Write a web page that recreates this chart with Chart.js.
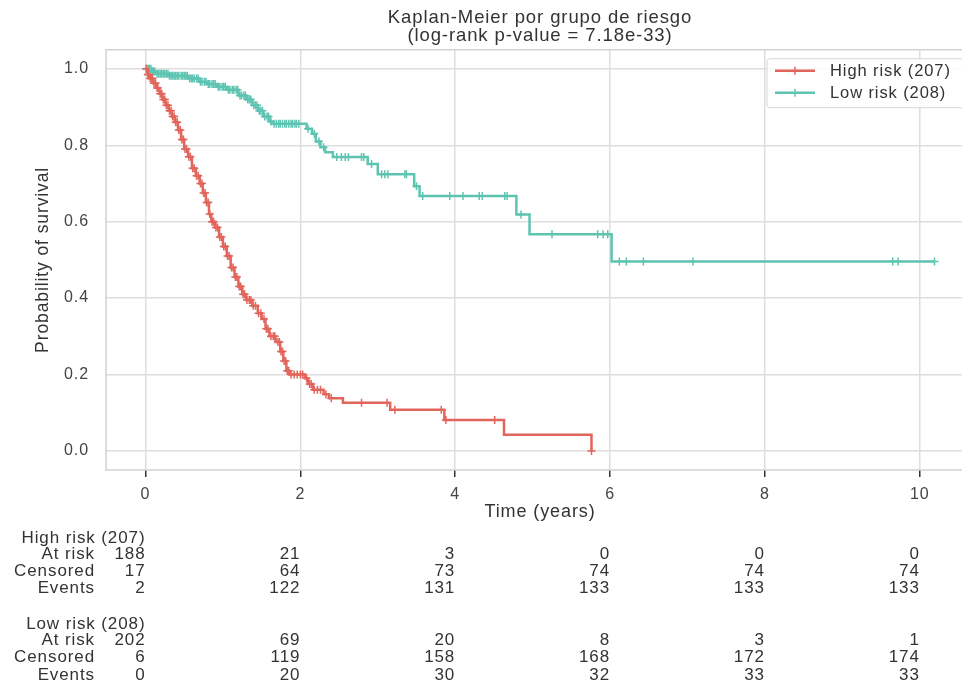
<!DOCTYPE html>
<html>
<head>
<meta charset="utf-8">
<title>Kaplan-Meier por grupo de riesgo</title>
<script src="https://cdn.jsdelivr.net/npm/chart.js@4.4.1/dist/chart.umd.min.js"></script>
<style>
  html, body { margin: 0; padding: 0; background: #fff; overflow: hidden; }
  /* the original figure is cut off a little on the right */
  #wrap { width: 962px; height: 685px; overflow: hidden; }
</style>
</head>
<body>
<div id="wrap"><canvas id="km-chart" width="980" height="685"></canvas></div>
<script>
// Kaplan-Meier step values (time in years, survival)
const highTimes = [0, 0.03, 0.06, 0.1, 0.14, 0.18, 0.22, 0.26, 0.3, 0.34, 0.38, 0.42, 0.46, 0.5, 0.55, 0.6, 0.65, 0.7, 0.74, 0.78, 0.82, 0.85, 0.9, 0.95, 1.0, 1.05, 1.1, 1.15, 1.2, 1.25, 1.3, 1.38, 1.45, 1.5, 1.55, 1.6, 1.68, 1.74, 1.78, 1.82, 1.86, 2.06, 2.1, 2.16, 2.3, 2.37, 2.55, 3.16, 3.86, 4.63, 5.76];
const highSurv = [1.0, 0.985, 0.975, 0.962, 0.95, 0.935, 0.92, 0.905, 0.89, 0.875, 0.86, 0.84, 0.815, 0.79, 0.77, 0.74, 0.72, 0.70, 0.675, 0.65, 0.62, 0.6, 0.585, 0.56, 0.535, 0.51, 0.48, 0.455, 0.43, 0.41, 0.395, 0.38, 0.36, 0.345, 0.32, 0.3, 0.285, 0.26, 0.235, 0.21, 0.2, 0.19, 0.175, 0.16, 0.148, 0.138, 0.126, 0.108, 0.081, 0.042, 0.0];
const highCensorTimes = [0.01, 0.03, 0.04, 0.06, 0.08, 0.09, 0.11, 0.13, 0.15, 0.16, 0.19, 0.21, 0.23, 0.25, 0.27, 0.29, 0.31, 0.33, 0.35, 0.37, 0.39, 0.41, 0.43, 0.45, 0.47, 0.49, 0.51, 0.53, 0.56, 0.58, 0.61, 0.63, 0.66, 0.68, 0.71, 0.73, 0.75, 0.77, 0.79, 0.81, 0.83, 0.86, 0.88, 0.91, 0.93, 0.96, 0.98, 1.01, 1.03, 1.06, 1.08, 1.11, 1.13, 1.16, 1.18, 1.21, 1.23, 1.26, 1.28, 1.31, 1.34, 1.36, 1.39, 1.42, 1.46, 1.49, 1.53, 1.56, 1.58, 1.62, 1.65, 1.67, 1.71, 1.73, 1.75, 1.77, 1.79, 1.81, 1.83, 1.85, 1.88, 1.92, 1.96, 2.0, 2.03, 2.08, 2.12, 2.14, 2.18, 2.22, 2.26, 2.33, 2.4, 2.79, 3.12, 3.22, 3.82, 3.88, 4.51, 5.76];

const lowTimes = [0, 0.08, 0.14, 0.3, 0.55, 0.7, 0.8, 0.92, 1.05, 1.2, 1.3, 1.38, 1.45, 1.52, 1.6, 1.64, 2.08, 2.15, 2.2, 2.26, 2.32, 2.42, 2.87, 3.0, 3.47, 3.54, 4.79, 4.96, 6.02];
const lowSurv = [1.0, 0.993, 0.987, 0.982, 0.975, 0.966, 0.96, 0.953, 0.945, 0.93, 0.92, 0.905, 0.89, 0.875, 0.862, 0.856, 0.843, 0.83, 0.81, 0.795, 0.782, 0.769, 0.751, 0.724, 0.693, 0.667, 0.619, 0.567, 0.496];
const lowCensorTimes = [0.01, 0.02, 0.04, 0.05, 0.07, 0.09, 0.1, 0.12, 0.15, 0.17, 0.19, 0.21, 0.23, 0.25, 0.27, 0.29, 0.31, 0.33, 0.35, 0.37, 0.39, 0.41, 0.43, 0.46, 0.48, 0.5, 0.52, 0.54, 0.57, 0.59, 0.61, 0.63, 0.66, 0.68, 0.71, 0.73, 0.76, 0.78, 0.81, 0.83, 0.86, 0.88, 0.9, 0.94, 0.96, 0.99, 1.01, 1.03, 1.07, 1.09, 1.12, 1.14, 1.17, 1.19, 1.22, 1.24, 1.27, 1.29, 1.32, 1.34, 1.36, 1.4, 1.42, 1.44, 1.47, 1.49, 1.51, 1.54, 1.57, 1.59, 1.62, 1.66, 1.69, 1.72, 1.74, 1.77, 1.8, 1.82, 1.85, 1.88, 1.9, 1.93, 1.95, 1.98, 2.1, 2.18, 2.24, 2.3, 2.47, 2.53, 2.58, 2.62, 2.79, 2.82, 2.92, 3.05, 3.09, 3.13, 3.35, 3.37, 3.5, 3.58, 3.93, 4.1, 4.31, 4.35, 4.64, 4.67, 4.85, 5.25, 5.84, 5.91, 5.97, 6.12, 6.21, 6.43, 7.07, 9.65, 9.72, 10.19];

// axis ticks
const timeTicks = [0, 2, 4, 6, 8, 10];
const survTicks = [0, 0.2, 0.4, 0.6, 0.8, 1.0];

// number-at-risk table (one value per time tick)
const highAtRisk = [188, 21, 3, 0, 0, 0];
const highCensored = [17, 64, 73, 74, 74, 74];
const highEvents = [2, 122, 131, 133, 133, 133];
const lowAtRisk = [202, 69, 20, 8, 3, 1];
const lowCensored = [6, 119, 158, 168, 172, 174];
const lowEvents = [0, 20, 30, 32, 33, 33];

const highLabel = "High risk (207)";
const lowLabel = "Low risk (208)";
const RED = "#e2655c";
const TEAL = "#5ec4b2";
const FONT = "'Liberation Sans', Arial, Helvetica, sans-serif";

function survivalAt(times, surv, t) {
  let s = surv[0];
  for (let i = 0; i < times.length; i++) {
    if (times[i] <= t) s = surv[i];
  }
  return s;
}

function stepPoints(times, surv, censors) {
  const pts = times.map((t, i) => ({ x: t, y: surv[i] }));
  const end = Math.max(...censors, times[times.length - 1]);
  pts.push({ x: end, y: surv[surv.length - 1] });
  return pts;
}

function censorPoints(times, surv, censors) {
  return censors.map(t => ({ x: t, y: survivalAt(times, surv, t) }));
}

// slightly wider text, like the original render
const spacingPlugin = {
  id: "spacing",
  beforeDraw(chart) { chart.ctx.letterSpacing = "0.9px"; }
};

// frame around the plot area
const framePlugin = {
  id: "frame",
  beforeDatasetsDraw(chart) {
    const a = chart.chartArea;
    const ctx = chart.ctx;
    ctx.save();
    ctx.strokeStyle = "#d2d2d2";
    ctx.lineWidth = 1.5;
    ctx.strokeRect(a.left, a.top, a.right - a.left, a.bottom - a.top);
    ctx.restore();
  }
};

// legend box in the upper right corner
const legendPlugin = {
  id: "kmLegend",
  afterDatasetsDraw(chart) {
    const a = chart.chartArea;
    const ctx = chart.ctx;
    const items = [[highLabel, RED], [lowLabel, TEAL]];
    const w = 202, h = 49;
    const x0 = a.right - w - 5, y0 = a.top + 9;
    ctx.save();
    ctx.fillStyle = "rgba(255,255,255,0.85)";
    ctx.strokeStyle = "#d6d6d6";
    ctx.lineWidth = 1;
    ctx.beginPath();
    ctx.roundRect(x0, y0, w, h, 3);
    ctx.fill();
    ctx.stroke();
    ctx.font = "16.5px " + FONT;
    ctx.textBaseline = "middle";
    items.forEach((it, i) => {
      const y = y0 + 12 + i * 22;
      ctx.strokeStyle = it[1];
      ctx.lineWidth = 2.5;
      ctx.beginPath();
      ctx.moveTo(x0 + 8, y);
      ctx.lineTo(x0 + 48, y);
      ctx.stroke();
      ctx.lineWidth = 1.5;
      ctx.beginPath();
      ctx.moveTo(x0 + 28, y - 4);
      ctx.lineTo(x0 + 28, y + 4);
      ctx.stroke();
      ctx.fillStyle = "#333";
      ctx.fillText(it[0], x0 + 63, y + 1);
    });
    ctx.restore();
  }
};

// number-at-risk table under the x axis
const tablePlugin = {
  id: "riskTable",
  afterDraw(chart) {
    const xs = chart.scales.x;
    const ctx = chart.ctx;
    const top = chart.chartArea.bottom + 68;
    const labelX = 95;
    const groups = [
      [highLabel, highAtRisk, highCensored, highEvents],
      [lowLabel, lowAtRisk, lowCensored, lowEvents]
    ];
    const rowNames = ["At risk", "Censored", "Events"];
    ctx.save();
    ctx.font = "17px " + FONT;
    ctx.fillStyle = "#333";
    ctx.textBaseline = "middle";
    ctx.textAlign = "right";
    groups.forEach((g, gi) => {
      const gy = top + gi * 86.5;
      ctx.fillText(g[0], xs.getPixelForValue(timeTicks[0]), gy);
      for (let r = 0; r < 3; r++) {
        const y = gy + 16 + r * 17.3;
        ctx.fillText(rowNames[r], labelX, y);
        timeTicks.forEach((t, c) => {
          ctx.fillText(String(g[r + 1][c]), xs.getPixelForValue(t), y);
        });
      }
    });
    ctx.restore();
  }
};

const ctx = document.getElementById("km-chart").getContext("2d");
const kmChart = new Chart(ctx, {
  type: "line",
  data: {
    datasets: [
      {
        label: highLabel,
        data: stepPoints(highTimes, highSurv, highCensorTimes),
        borderColor: RED,
        borderWidth: 2.5,
        stepped: "before",
        pointRadius: 0,
        fill: false
      },
      {
        label: lowLabel,
        data: stepPoints(lowTimes, lowSurv, lowCensorTimes),
        borderColor: TEAL,
        borderWidth: 2.5,
        stepped: "before",
        pointRadius: 0,
        fill: false
      },
      {
        label: "high censored",
        data: censorPoints(highTimes, highSurv, highCensorTimes),
        showLine: false,
        pointStyle: "cross",
        pointRadius: 4,
        borderColor: RED,
        borderWidth: 1.5
      },
      {
        label: "low censored",
        data: censorPoints(lowTimes, lowSurv, lowCensorTimes),
        showLine: false,
        pointStyle: "cross",
        pointRadius: 4,
        borderColor: TEAL,
        borderWidth: 1.5
      }
    ]
  },
  options: {
    responsive: false,
    devicePixelRatio: 1,
    animation: false,
    layout: { padding: { left: 0, right: 6, top: 0, bottom: 162 } },
    plugins: {
      legend: { display: false },
      tooltip: { enabled: false },
      title: {
        display: true,
        fullSize: false,
        text: ["Kaplan-Meier por grupo de riesgo", "(log-rank p-value = 7.18e-33)"],
        color: "#333",
        font: { family: FONT, size: 18.5, weight: "normal", lineHeight: 1.02 },
        padding: { top: 8, bottom: 4 }
      }
    },
    scales: {
      x: {
        type: "linear",
        min: -0.51,
        max: 10.70,
        afterBuildTicks: s => { s.ticks = timeTicks.map(v => ({ value: v })); },
        afterFit: s => { s.height = 53; },
        grid: { color: "#dedede", lineWidth: 1.5, tickLength: 7, tickColor: "#333", tickWidth: 1.5 },
        border: { display: false },
        ticks: { color: "#444", padding: 8, font: { family: FONT, size: 16 } },
        title: {
          display: true,
          text: "Time (years)",
          color: "#333",
          padding: 0,
          font: { family: FONT, size: 18 }
        }
      },
      y: {
        type: "linear",
        min: -0.05,
        max: 1.05,
        afterBuildTicks: s => { s.ticks = survTicks.map(v => ({ value: v })); },
        afterFit: s => { s.width = 106; },
        grid: { color: "#dedede", lineWidth: 1.5, drawTicks: false },
        border: { display: false },
        ticks: { color: "#444", padding: 17, font: { family: FONT, size: 16 }, callback: v => v.toFixed(1) },
        title: {
          display: true,
          text: "Probability of survival",
          color: "#333",
          padding: { top: 33 },
          font: { family: FONT, size: 17.5 }
        }
      }
    }
  },
  plugins: [spacingPlugin, framePlugin, legendPlugin, tablePlugin]
});
</script>
</body>
</html>
